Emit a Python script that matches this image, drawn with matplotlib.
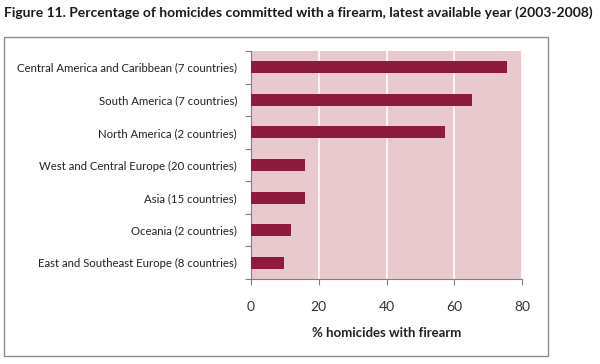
import matplotlib
matplotlib.use("Agg")
import matplotlib.pyplot as plt
from matplotlib.patches import Rectangle
import numpy as np

categories = [
    "Central America and Caribbean (7 countries)",
    "South America (7 countries)",
    "North America (2 countries)",
    "West and Central Europe (20 countries)",
    "Asia (15 countries)",
    "Oceania (2 countries)",
    "East and Southeast Europe (8 countries)",
]
values = [75.5, 65.2, 57.2, 15.8, 15.8, 11.8, 9.7]
xticks = [0, 20, 40, 60, 80]

plt.rcParams['font.family'] = ['Lato', 'DejaVu Sans']

fig = plt.figure(figsize=(6.0, 3.64), dpi=100)
W, H = 600, 364
ax = fig.add_axes([251 / W, 1 - 279 / H, (522 - 251) / W, (279 - 51) / H])

# outer frame
fig.patches.append(Rectangle((4 / W, 1 - 356 / H), (548 - 4) / W, (356 - 37) / H,
                             transform=fig.transFigure, fill=False,
                             edgecolor='#8c8c8c', linewidth=1.0))

title = fig.text(4 / W, 1 - 13 / H,
         "Figure 11. Percentage of homicides committed with a firearm, latest available year (2003-2008)",
         fontsize=10, fontweight='bold', va='center', ha='left', color='#1a1a1a')

y = np.arange(len(categories))
ax.set_facecolor('#e8c9cd')
ax.barh(y, values, height=0.37, color='#8e1b3f', zorder=3)
ax.set_xlim(0, 80)
ax.set_ylim(len(categories) - 0.5, -0.5)
ax.set_xticks(xticks)
ax.set_xticklabels([str(v) for v in xticks], fontsize=10, color='#333333')
ax.grid(axis='x', color='white', linewidth=1.2, zorder=1)
ax.set_yticks(np.arange(len(categories) + 1) - 0.5, minor=False)
ax.set_yticklabels([''] * (len(categories) + 1))
ax.set_yticks(y, minor=True)
ax.set_yticklabels(categories, minor=True, fontsize=8.2, color='#222222')
ax.tick_params(axis='y', which='minor', length=0, pad=10)
ax.tick_params(axis='y', which='major', length=4, color='#808080', direction='out')
ax.tick_params(axis='x', length=4, color='#808080', direction='out', pad=12)
for s in ['top', 'right']:
    ax.spines[s].set_visible(False)
for s in ['left', 'bottom']:
    ax.spines[s].set_color('#808080')
ax.set_xlabel("% homicides with firearm", fontsize=9.5, fontweight='bold', labelpad=10, color='#222222')

# keep the title within the canvas width
fig.canvas.draw()
bb = title.get_window_extent()
if bb.x1 > W - 2:
    title.set_fontsize(10 * (W - 2 - bb.x0) / bb.width)

fig.savefig("out.png", dpi=100)
